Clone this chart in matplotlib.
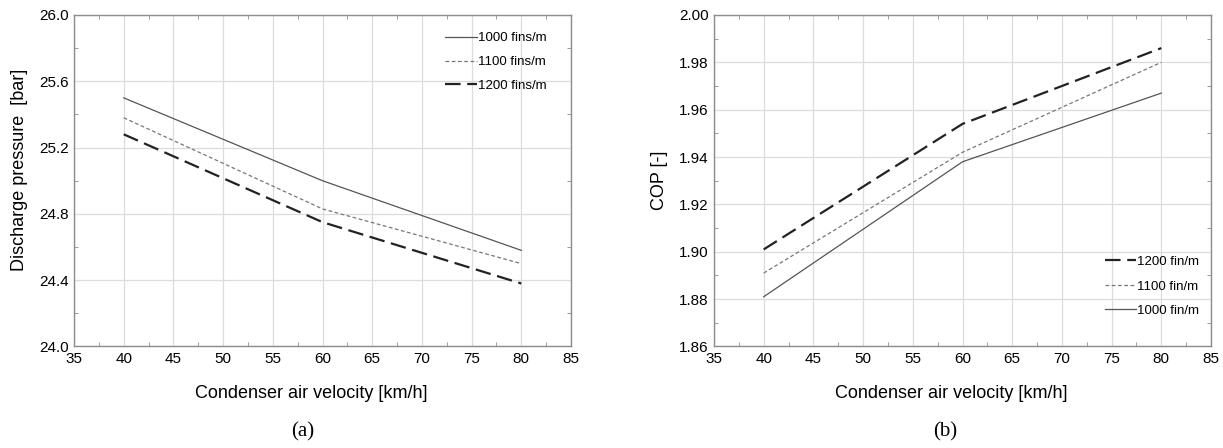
import matplotlib.pyplot as plt
from matplotlib.ticker import MultipleLocator

plt.rcParams['font.family'] = ['Liberation Sans', 'DejaVu Sans']

# 数据
velocity = [40, 60, 80]
pressure_1000 = [25.50, 25.00, 24.58]
pressure_1100 = [25.38, 24.83, 24.50]
pressure_1200 = [25.28, 24.75, 24.38]
cop_1200 = [1.901, 1.954, 1.986]
cop_1100 = [1.891, 1.942, 1.980]
cop_1000 = [1.881, 1.938, 1.967]

fig = plt.figure(figsize=(12.23, 4.48), dpi=100)
ax1 = fig.add_axes([0.0605, 0.2266, 0.4064, 0.740])
ax2 = fig.add_axes([0.5838, 0.2266, 0.4064, 0.740])

spine_c = '#8c8c8c'
for ax in (ax1, ax2):
    for s in ax.spines.values():
        s.set_color(spine_c)
        s.set_linewidth(1.0)
    ax.set_xlim(35, 85)
    ax.xaxis.set_major_locator(MultipleLocator(5))
    ax.xaxis.set_minor_locator(MultipleLocator(2.5))
    ax.tick_params(which='both', direction='in', top=True, right=True,
                   color=spine_c, labelsize=11, pad=4)
    ax.tick_params(which='major', length=0)
    ax.tick_params(which='minor', length=3)
    ax.grid(True, which='major', color='#dcdcdc', linewidth=0.9)
    ax.set_axisbelow(True)
    ax.set_xlabel('Condenser air velocity [km/h]', fontsize=13, labelpad=14)
    ax.xaxis.label.set_x(0.478)

# (a)
ax1.plot(velocity, pressure_1000, color='#555555', lw=0.9, ls='-', label='1000 fins/m')
ax1.plot(velocity, pressure_1100, color='#777777', lw=0.9, ls=(0, (3, 2)), label='1100 fins/m')
ax1.plot(velocity, pressure_1200, color='#222222', lw=1.6, ls=(0, (7, 3)), label='1200 fins/m')
ax1.set_ylim(24.0, 26.0)
ax1.yaxis.set_major_locator(MultipleLocator(0.4))
ax1.yaxis.set_minor_locator(MultipleLocator(0.2))
ax1.yaxis.set_major_formatter('{x:.1f}')
ax1.set_ylabel('Discharge pressure  [bar]', fontsize=13, labelpad=8)
ax1.yaxis.label.set_y(0.533)
ax1.legend(loc='upper right', bbox_to_anchor=(0.974, 0.984), frameon=False, fontsize=9.5,
           handlelength=2.4, handletextpad=0.05, labelspacing=0.88)

# (b)
ax2.plot(velocity, cop_1200, color='#222222', lw=1.6, ls=(0, (7, 3)), label='1200 fin/m')
ax2.plot(velocity, cop_1100, color='#777777', lw=0.9, ls=(0, (3, 2)), label='1100 fin/m')
ax2.plot(velocity, cop_1000, color='#555555', lw=0.9, ls='-', label='1000 fin/m')
ax2.set_ylim(1.86, 2.00)
ax2.yaxis.set_major_locator(MultipleLocator(0.02))
ax2.yaxis.set_minor_locator(MultipleLocator(0.01))
ax2.yaxis.set_major_formatter('{x:.2f}')
ax2.set_ylabel('COP [-]', fontsize=13, labelpad=8)
ax2.legend(loc='lower right', bbox_to_anchor=(1.0, 0.053), frameon=False, fontsize=9.5,
           handlelength=2.4, handletextpad=0.05, labelspacing=0.93)

fig.text(0.2478, 0.036, '(a)', ha='center', va='center', fontsize=15, family='Liberation Serif')
fig.text(0.7727, 0.036, '(b)', ha='center', va='center', fontsize=15, family='Liberation Serif')

plt.savefig('out.png', dpi=100)
